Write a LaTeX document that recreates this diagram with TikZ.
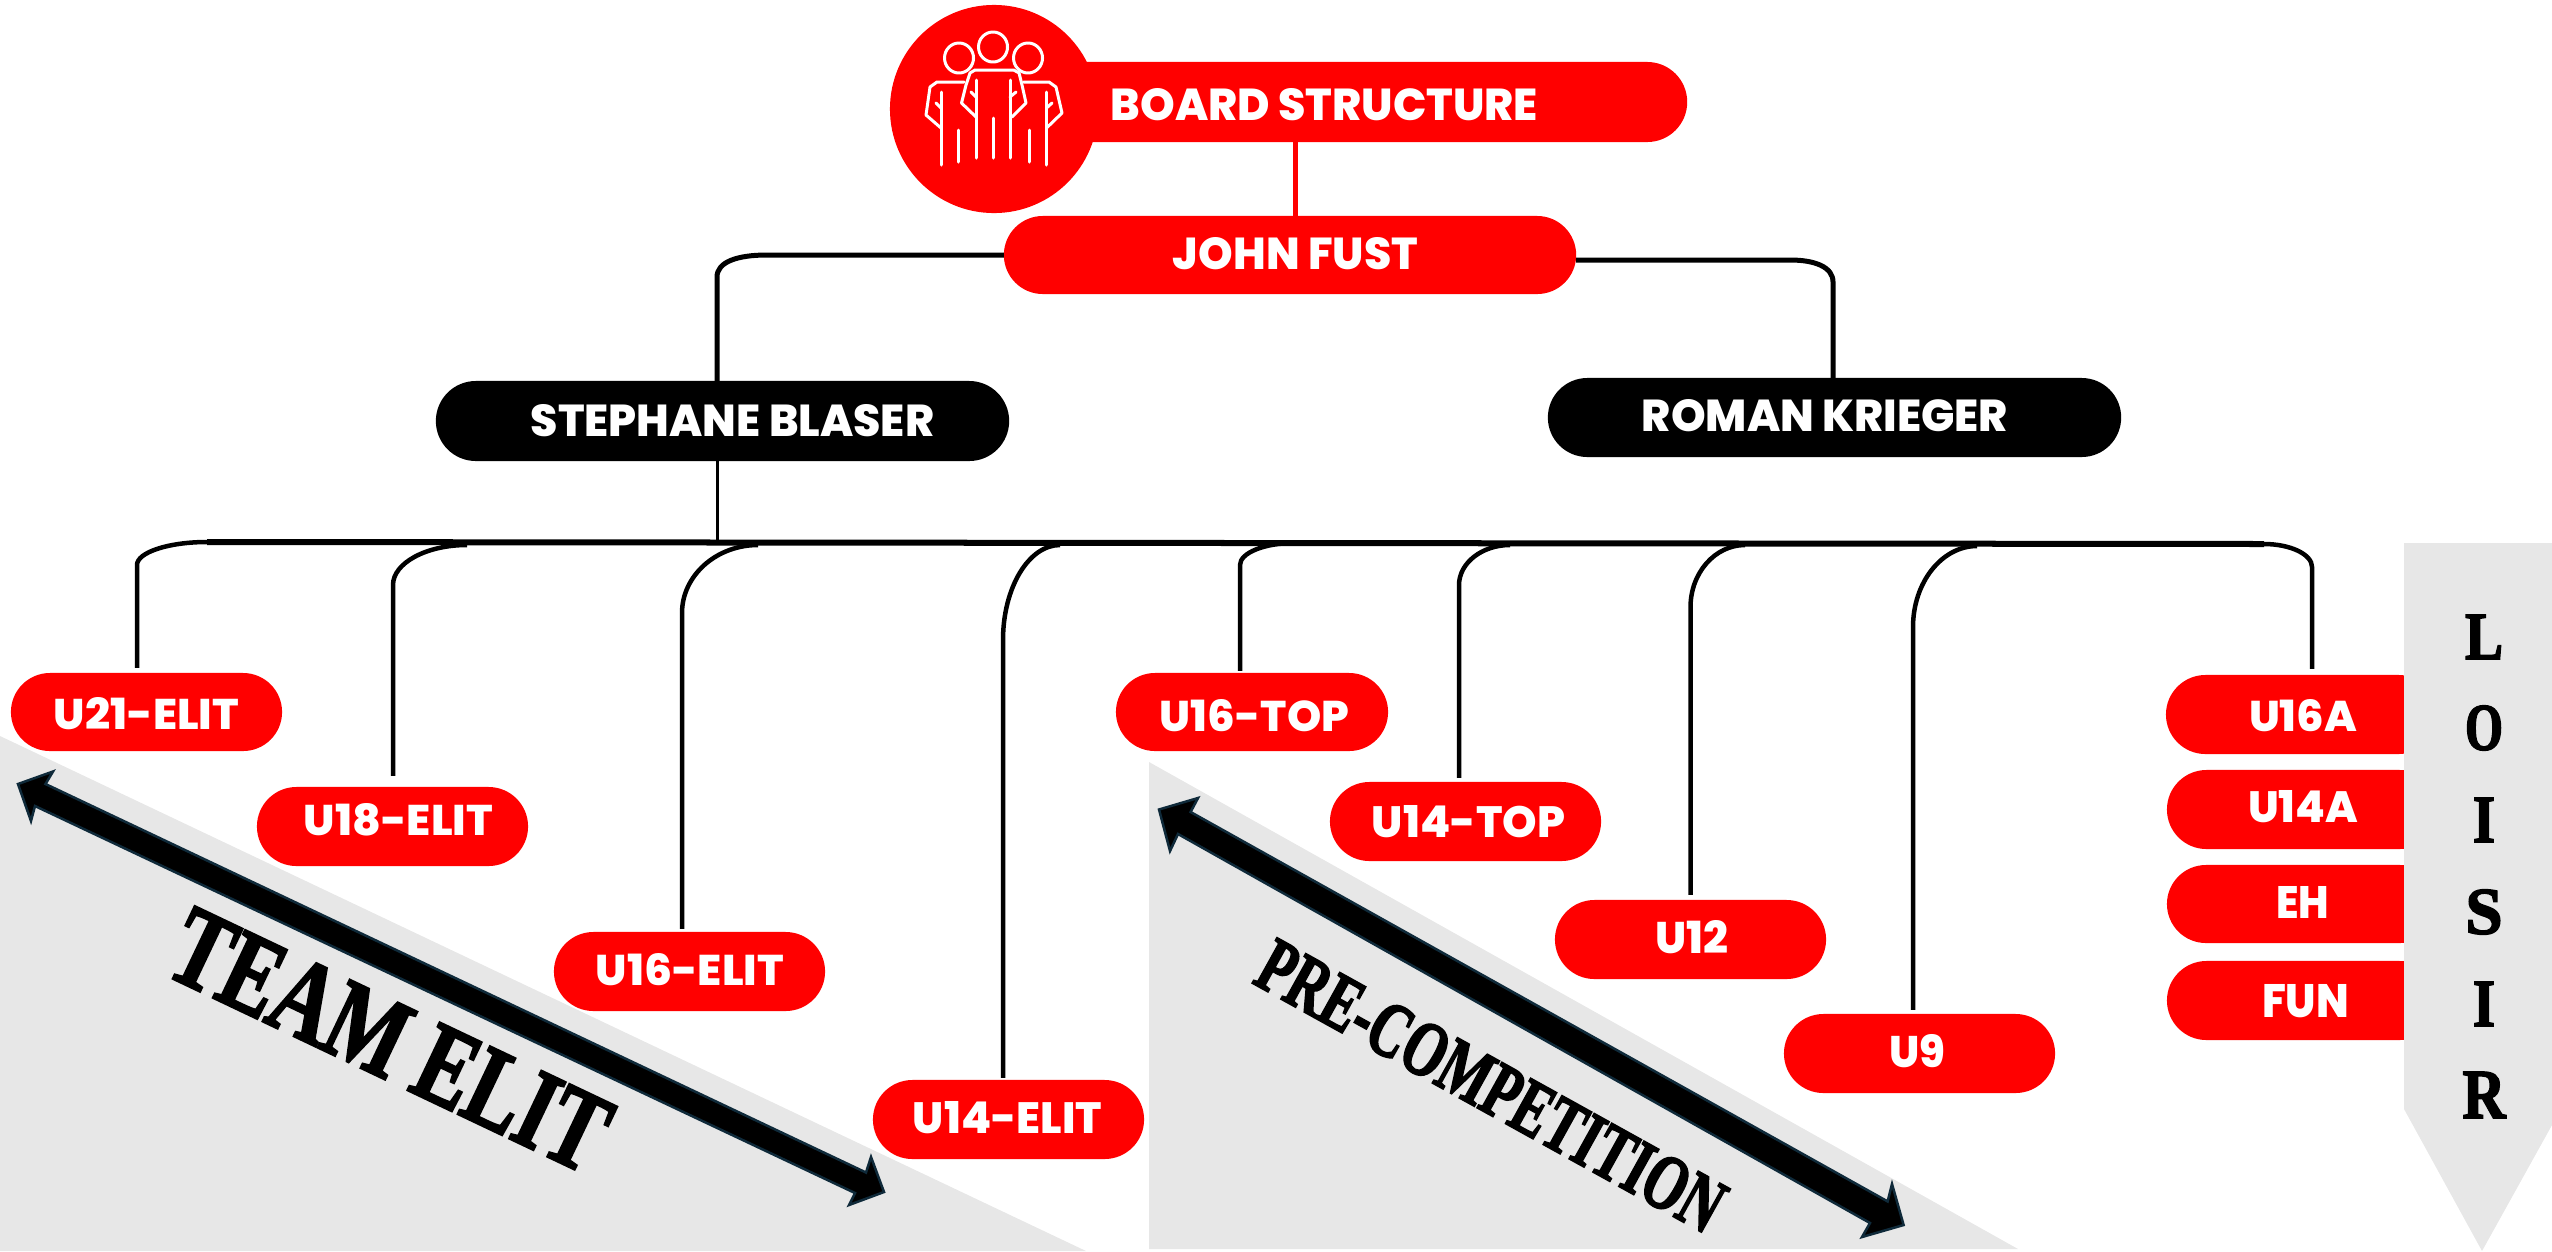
\documentclass[tikz,border=0pt]{standalone}
\usepackage{fontspec}
\usepackage{graphicx}
\usetikzlibrary{shapes.misc,calc}
\setmainfont{Poppins}[BoldFont={* ExtraBold}]
\newfontfamily\deco{Liberation Serif}[UprightFont={* Bold},FakeBold=2.5]
\definecolor{pillred}{HTML}{FF0000}
\definecolor{panel}{HTML}{E7E7E7}
\definecolor{navy}{HTML}{0F2A3A}
\tikzset{
  pill/.style={rounded rectangle,fill=pillred,inner sep=0pt,outer sep=0pt},
  blackpill/.style={rounded rectangle,fill=black,inner sep=0pt,outer sep=0pt},
  pilltext/.style={text=white,inner sep=0pt,outer sep=0pt,font=\bfseries},
  conn/.style={draw=black,line width=0.045cm,line cap=butt,line join=round},
  icon/.style={draw=white,line width=0.03cm,line cap=round,line join=round},
  darrow/.style={fill=black,draw=navy,line width=0.025cm,line join=miter},
  decotext/.style={text=black,inner sep=0pt,font=\deco}
}
% #1 name, #2-#5 x1,y1,x2,y2, #6 style
\newcommand{\pillat}[6]{%
  \pgfmathsetmacro{\pw}{(#4-#2)/100}\pgfmathsetmacro{\ph}{(#5-#3)/100}%
  \pgfmathsetmacro{\pcx}{(#2+#4)/2}\pgfmathsetmacro{\pcy}{(#3+#5)/2}%
  \node[#6,minimum width=\pw cm,minimum height=\ph cm] (#1) at (\pcx,\pcy) {};}
% #1 x1, #2 x2, #3 y1, #4 y2, #5 text
\newcommand{\lab}[5]{%
  \pgfmathsetmacro{\pw}{(#2-#1)/100}\pgfmathsetmacro{\ph}{(#4-#3)/100}%
  \pgfmathsetmacro{\pcx}{(#1+#2)/2}\pgfmathsetmacro{\pcy}{(#3+#4)/2}%
  \node[pilltext] at (\pcx,\pcy) {\resizebox{\pw cm}{\ph cm}{\bfseries #5}};}
% #1 node, #2 x of drop, #3 curve end y, #4 junction x, #5 junction y, #6 gap (cm)
\newcommand{\branch}[6]{%
  \pgfmathsetmacro{\ca}{#2+0.45*(#4-#2)}\pgfmathsetmacro{\cb}{#3-0.55*(#3-#5)}%
  \draw[conn,shorten >=#6cm] (#4,#5) .. controls (\ca,#5) and (#2,\cb) .. (#2,#3) -- (#1.north -| #2,#3);}
% #1 name, #2 cy, #3 width, #4 height, #5 letter
\newcommand{\loisir}[5]{%
  \node[decotext] (#1) at (2484,#2) {\resizebox{#3cm}{#4cm}{\deco #5}};}
\begin{document}
\begin{tikzpicture}[x=0.01cm,y=-0.01cm]
\useasboundingbox (0,0) rectangle (2552,1251);
% panels
\fill[panel] (0,736) -- (1086,1251) -- (0,1251) -- cycle;
\fill[panel] (1149,762) -- (2018,1249) -- (1149,1249) -- cycle;
% top boxes
\node[circle,fill=pillred,inner sep=0pt,minimum size=2.08cm] (logo) at (994,109) {};
\pillat{boardbar}{1000}{62}{1687}{142}{pill}
\pillat{john}{1004}{216}{1576}{294}{pill}
\pillat{stephane}{436}{381}{1009}{461}{blackpill}
\pillat{roman}{1548}{378}{2121}{457}{blackpill}
% team pills
\pillat{u21}{11}{673}{282}{751}{pill}
\pillat{u18}{257}{787}{528}{866}{pill}
\pillat{u16e}{554}{932}{825}{1011}{pill}
\pillat{u14e}{873}{1080}{1144}{1159}{pill}
\pillat{u16t}{1116}{673}{1388}{751}{pill}
\pillat{u14t}{1330}{782}{1601}{861}{pill}
\pillat{u12}{1555}{900}{1826}{979}{pill}
\pillat{u9}{1784}{1014}{2055}{1093}{pill}
\pillat{u16a}{2166}{675}{2438}{754}{pill}
\pillat{u14a}{2167}{770}{2439}{849}{pill}
\pillat{eh}{2167}{865}{2439}{943}{pill}
\pillat{fun}{2167}{961}{2439}{1040}{pill}
% connectors
\draw[draw=pillred,line width=0.05cm] (boardbar.south -| 1295.5,0) -- (john.north -| 1295.5,0);
\draw[conn,line width=0.05cm] (john.west |- 0,255) -- (767,255) .. controls (737,255) and (717,262) .. (717,277) -- (stephane.north -| 717,0);
\draw[conn,line width=0.05cm] (john.east |- 0,260) -- (1790,260) .. controls (1815,260) and (1833,267) .. (1833,282) -- (roman.north -| 1833,0);
\draw[conn,line width=0.035cm] (stephane.south -| 717.5,0) -- (717.5,543);
\coordinate (busL) at (207,542);
\coordinate (busR) at (2264,544);
\draw[conn,line width=0.06cm] (busL) -- (busR);
\branch{u21}{137}{565}{207}{542}{0.05}
\branch{u18}{393}{585}{467}{545}{0.11}
\branch{u16e}{682}{613}{758}{545}{0.03}
\branch{u14e}{1003}{640}{1060}{545}{0.02}
\branch{u16t}{1240}{565}{1294}{543}{0.02}
\branch{u14t}{1459}{585}{1510}{545}{0.04}
\branch{u12}{1690.5}{607}{1745}{545}{0.05}
\branch{u9}{1913}{627}{1977}{546}{0.04}
\branch{u16a}{2312}{567}{2264}{544}{0.06}
% Loisir panel
\fill[panel] (2404,543) -- (2552,543) -- (2552,1125) -- (2482,1251) -- (2404,1109) -- cycle;
% icon
\draw[icon] (993,47) ellipse [x radius=14.5,y radius=15];
\draw[icon] (959,58) ellipse [x radius=14.5,y radius=15];
\draw[icon] (1028,58) ellipse [x radius=14.5,y radius=15];
\draw[icon] (976,117) -- (961.5,103) -- (966,85) -- (970,73) -- (975,70) -- (1013.6,70) -- (1019,73) -- (1022,85) -- (1026,103) -- (1012,117);
\draw[icon] (976,80) -- (976,158);
\draw[icon] (1010,80) -- (1010,158);
\draw[icon] (993,118) -- (993,158);
\draw[icon] (976,97) -- (971,92);
\draw[icon] (1010,97) -- (1016,92);
\draw[icon] (964,82) -- (937,82) -- (930,87) -- (926,115) -- (941,128);
\draw[icon] (941,92) -- (941,165);
\draw[icon] (958,130) -- (958,162);
\draw[icon] (941,108) -- (936,103);
\draw[icon] (1023.5,82) -- (1049,82) -- (1056,87) -- (1062,113) -- (1046.5,128);
\draw[icon] (1046.5,92) -- (1046.5,165);
\draw[icon] (1029,130) -- (1029,162);
\draw[icon] (1046.5,108) -- (1052,103);
% labels
\lab{1111}{1538}{89}{121}{BOARD STRUCTURE}
\lab{1173}{1418}{238}{270}{JOHN FUST}
\lab{531}{934}{405}{437}{STEPHANE BLASER}
\lab{1642}{2008}{400}{432}{ROMAN KRIEGER}
\lab{54}{239}{698}{730}{U21-ELIT}
\lab{304}{493}{804}{836}{U18-ELIT}
\lab{596}{784}{954}{986}{U16-ELIT}
\lab{913}{1102}{1102}{1134}{U14-ELIT}
\lab{1160}{1349}{700}{732}{U16-TOP}
\lab{1372}{1565}{806}{838}{U14-TOP}
\lab{1655}{1728}{921}{954}{U12}
\lab{1889}{1945}{1035}{1068}{U9}
\lab{2249}{2357}{700}{732}{U16A}
\lab{2248}{2358}{791}{823}{U14A}
\lab{2276}{2329}{886}{918}{EH}
\lab{2262}{2349}{985}{1018}{FUN}
% double arrows
\filldraw[darrow] (18,784) -- (53,771.5) -- (45.5,784) -- (866,1172.5) -- (871,1157) -- (884,1192) -- (849,1205) -- (855,1193) -- (35,806) -- (31,821) -- cycle;
\filldraw[darrow] (1159,809.5) -- (1198,798) -- (1190.6,812) -- (1887.6,1201.4) -- (1892,1184) -- (1903.6,1225) -- (1862,1237) -- (1870,1223) -- (1178,834) -- (1170,851) -- cycle;
% deco texts
\node[decotext,rotate=-25.4] (teamelit) at (390,1040) {\resizebox{4.7cm}{0.75cm}{\deco TEAM ELIT}};
\node[decotext,rotate=-29] (precomp) at (1491,1086) {\resizebox{5.2cm}{0.52cm}{\deco PRE-COMPETITION}};
\loisir{l1}{637}{0.38}{0.44}{L}
\loisir{l2}{728}{0.38}{0.44}{O}
\loisir{l3}{820}{0.22}{0.44}{I}
\loisir{l4}{912}{0.37}{0.44}{S}
\loisir{l5}{1004}{0.22}{0.44}{I}
\loisir{l6}{1095}{0.43}{0.46}{R}
\end{tikzpicture}
\end{document}
